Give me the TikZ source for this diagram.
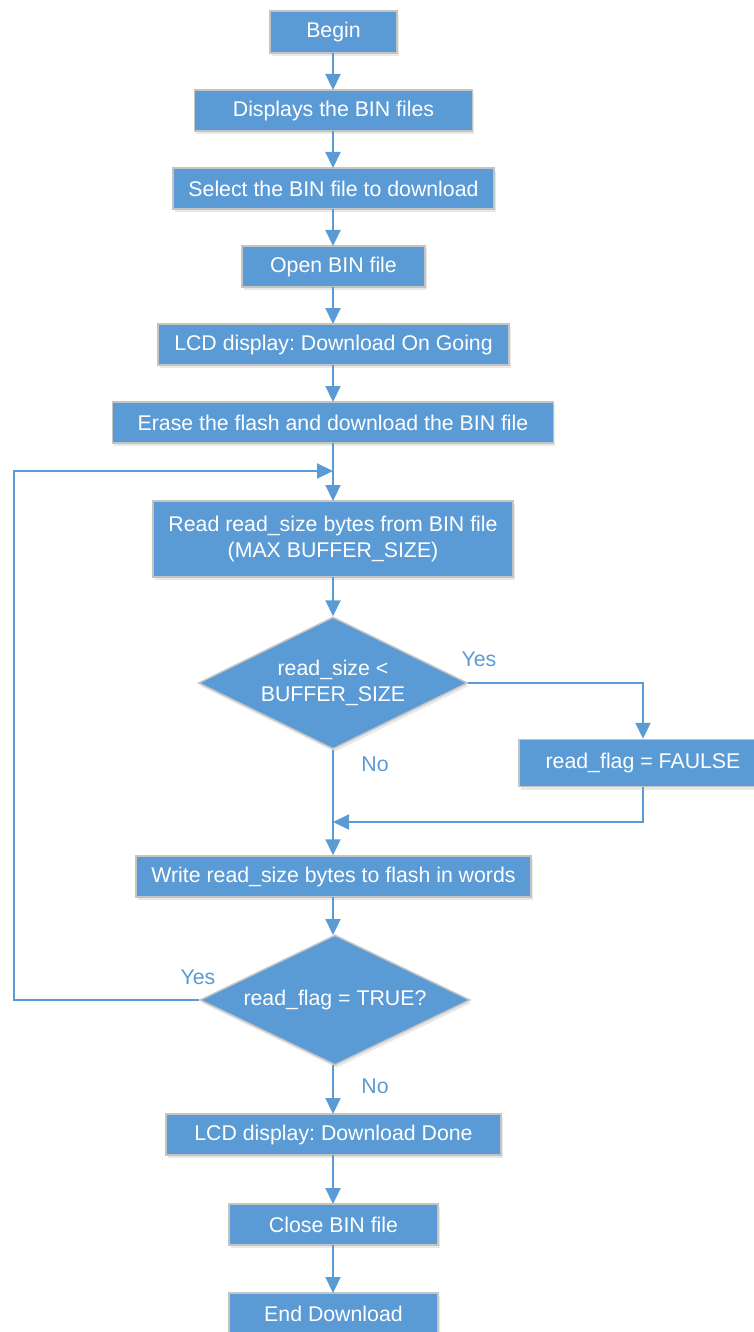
\documentclass[tikz,border=0pt]{standalone}
\usepackage{fontspec}
\setmainfont{Liberation Sans}
\usetikzlibrary{arrows.meta,shapes.geometric,shadows}
\definecolor{boxblue}{HTML}{5B9BD5}
\definecolor{boxedge}{HTML}{C4C4C4}
\frenchspacing
\tikzset{
  every node/.style={font=\fontsize{21.3}{26}\selectfont},
  stepbox/.style={draw=boxedge, line width=1.5pt, fill=boxblue, text=white,
    inner sep=0pt, align=center,
    drop shadow={shadow xshift=1.5pt, shadow yshift=-3pt, opacity=0.15, fill=black!60}},
  decision/.style={diamond, aspect=2, draw=boxedge, line width=1.5pt, fill=boxblue,
    text=white, inner sep=0pt, align=center,
    drop shadow={shadow xshift=1.5pt, shadow yshift=-3pt, opacity=0.15, fill=black!60}},
  conn/.style={draw=boxblue, line width=2.2pt},
  arr/.style={conn, -{Triangle[length=16pt,width=15pt]}},
  lbl/.style={text=boxblue, inner sep=0pt}
}
\begin{document}
\begin{tikzpicture}[x=1pt,y=-1pt]
\useasboundingbox (0,0) rectangle (754,1332);
\clip (0,0) rectangle (754,1332);
\node[stepbox, minimum width=127pt, minimum height=42pt] (begin) at (333.5,32) {Begin};
\node[stepbox, minimum width=278pt, minimum height=41pt] (disp) at (333.5,110.5) {Displays the BIN files};
\node[stepbox, minimum width=321pt, minimum height=41pt] (sel) at (333.5,188.5) {Select the BIN file to download};
\node[stepbox, minimum width=183pt, minimum height=41pt] (open) at (333.5,266.5) {Open BIN file};
\node[stepbox, minimum width=351pt, minimum height=41pt] (lcd1) at (333.5,344.5) {LCD display: Download On Going};
\node[stepbox, minimum width=441pt, minimum height=41pt] (erase) at (333,422.5) {Erase the flash and download the BIN file};
\node[stepbox, minimum width=360pt, minimum height=76pt] (read) at (333,539) {Read read\_size bytes from BIN file\\(MAX BUFFER\_SIZE)};
\node[decision, minimum width=269pt, minimum height=132pt] (d1) at (333,683) {read\_size <\\BUFFER\_SIZE};
\node[stepbox, minimum width=248pt, minimum height=47pt] (flag) at (643,763) {read\_flag = FAULSE};
\node[stepbox, minimum width=395pt, minimum height=41pt] (write) at (333.5,876.5) {Write read\_size bytes to flash in words};
\node[decision, minimum width=270pt, minimum height=130pt] (d2) at (335,1000) {read\_flag = TRUE?};
\node[stepbox, minimum width=335pt, minimum height=41pt] (done) at (333.5,1134.5) {LCD display: Download Done};
\node[stepbox, minimum width=209pt, minimum height=41pt] (close) at (333.5,1224.5) {Close BIN file};
\node[stepbox, minimum width=209pt, minimum height=41pt] (end) at (333.5,1313.5) {End Download};

\coordinate (loopin) at (333,471);
\coordinate (loopcorner) at (14,471);
\coordinate (merge) at (333,822);

\draw[arr] (333,53) -- (333,90);
\draw[arr] (333,131) -- (333,168);
\draw[arr] (333,209) -- (333,246);
\draw[arr] (333,287) -- (333,324);
\draw[arr] (333,365) -- (333,402);
\draw[arr] (333,443) -- (333,501);
\draw[arr] (333,577) -- (d1.north);
\draw[arr] (d1.east) -| (flag.north);
\draw[arr] (flag.south) |- (merge);
\draw[arr] (d1.south) -- (write.north -| d1.south);
\draw[arr] (333,897) -- (333,935);
\draw[arr] (d2.west) -| (loopcorner) -- (loopin);
\draw[arr] (333,1065) -- (333,1114);
\draw[arr] (333,1155) -- (333,1204);
\draw[arr] (333,1245) -- (333,1293);

\node[lbl] (yes1) at (479,659) {Yes};
\node[lbl] (no1) at (375,764) {No};
\node[lbl] (yes2) at (198,977) {Yes};
\node[lbl] (no2) at (375,1086) {No};
\end{tikzpicture}
\end{document}
